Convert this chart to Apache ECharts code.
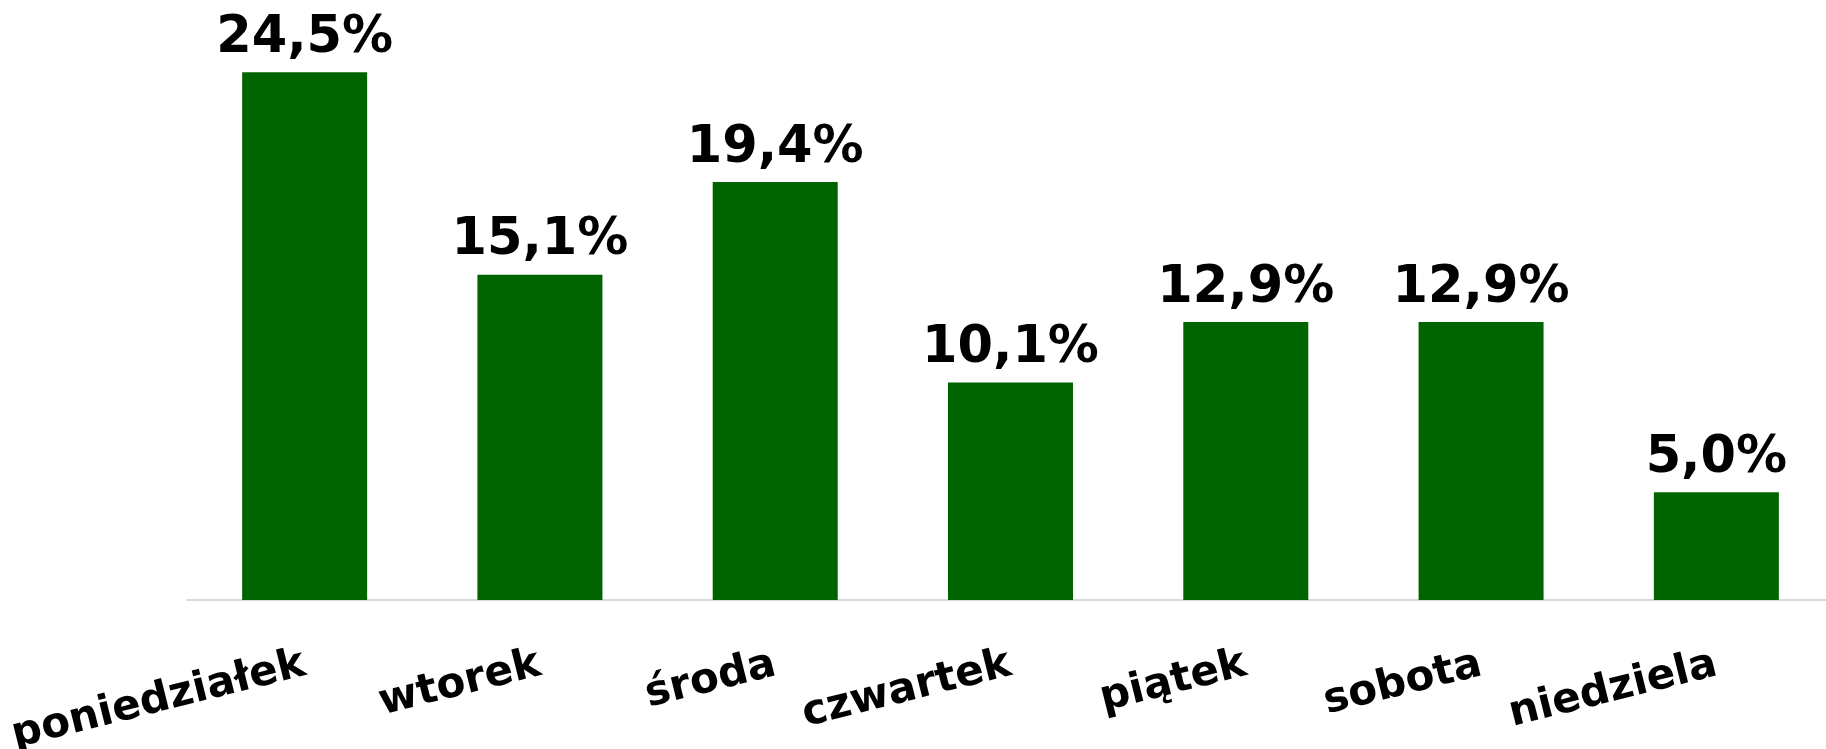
<!DOCTYPE html>
<html><head><meta charset="utf-8">
<script src="https://cdn.jsdelivr.net/npm/echarts@6/dist/echarts.min.js"></script>
<style>html,body{margin:0;padding:0;background:#fff}#c{width:1826px;height:749px}</style>
</head><body><div id="c"></div>
<script>
const categories = ['poniedziałek','wtorek','środa','czwartek','piątek','sobota','niedziela'];
const values = [24.5, 15.1, 19.4, 10.1, 12.9, 12.9, 5.0];
const chart = echarts.init(document.getElementById('c'));
chart.setOption({
  animation: false,
  grid: {left: 187, width: 1647, top: 0, bottom: 149, containLabel: false, outerBoundsMode: 'none'},
  xAxis: {
    type: 'category', data: categories,
    axisLine: {lineStyle: {color: '#d9d9d9', width: 2}},
    axisTick: {show: false},
    axisLabel: {rotate: 14, margin: 64, color: '#000', fontFamily: 'DejaVu Sans', fontWeight: 'bold', fontSize: 42, interval: 0}
  },
  yAxis: {type: 'value', min: 0, max: 27.85, show: false, splitLine: {show: false}},
  series: [{
    type: 'bar', data: values, barWidth: 125,
    itemStyle: {color: '#006400'},
    label: {show: true, position: 'top', distance: 8, color: '#000', fontFamily: 'DejaVu Sans', fontWeight: 'bold', fontSize: 51,
      formatter: p => p.value.toFixed(1).replace('.', ',') + '%'}
  }]
});
</script></body></html>
